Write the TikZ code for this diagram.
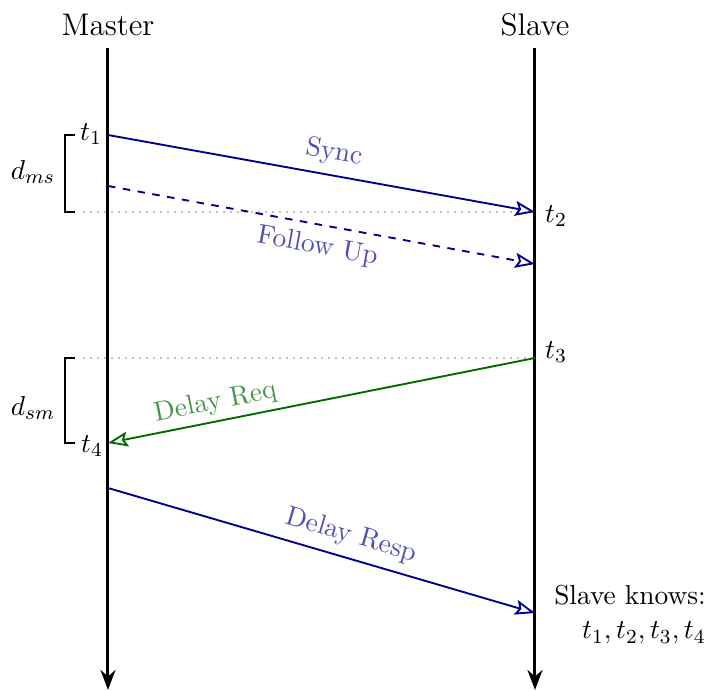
\documentclass[tikz,border=0pt,11pt]{standalone}
\usepackage{amsmath}
\usetikzlibrary{arrows.meta}
\definecolor{msgblue}{HTML}{00008C}
\definecolor{msgbluetext}{HTML}{5050B4}
\definecolor{msggreen}{HTML}{006A00}
\definecolor{msggreentext}{HTML}{4A944A}

\begin{document}
\begin{tikzpicture}[
    x=0.4pt, y=-0.4pt,
    timeline/.style={-{Stealth[length=8pt,width=6pt]}, line width=1.2pt},
    msg/.style={-{Stealth[open,length=8pt,width=6pt,inset=1.5pt]}, line width=0.75pt, color=msgblue},
    reply/.style={-{Stealth[open,length=8pt,width=6pt,inset=1.5pt]}, line width=0.75pt, color=msggreen},
    lbl/.style={sloped},
    guide/.style={dotted, thick, color=black!25},
    brace/.style={line width=0.75pt}
  ]
    \useasboundingbox (0,0) rectangle (709,691);

    % the two clocks
    \node[font=\fontsize{12.5}{15}\selectfont] (master) at (108,25) {Master};
    \node[font=\fontsize{12.5}{15}\selectfont] (slave)  at (535,25) {Slave};
    \coordinate (mtop) at (108,48);  \coordinate (mbot) at (108,690);
    \coordinate (stop) at (535,48);  \coordinate (sbot) at (535,690);
    \draw[timeline] (mtop) -- (mbot);
    \draw[timeline] (stop) -- (sbot);

    % time stamps
    \coordinate (t1) at (108,135);
    \coordinate (t2) at (535,212);
    \coordinate (f1) at (108,186);
    \coordinate (f2) at (535,264);
    \coordinate (t3) at (535,358);
    \coordinate (t4) at (108,443);
    \coordinate (r1) at (108,488);
    \coordinate (r2) at (535,613);

    % guide lines
    \coordinate (g2) at (83,212);
    \coordinate (g3) at (83,358);
    \draw[guide] (g2) -- (t2);
    \draw[guide] (g3) -- (t3);

    % messages
    \draw[msg] (t1) -- node[lbl, above, pos=0.52, text=msgbluetext] {Sync} (t2);
    \draw[msg, dashed] (f1) -- node[lbl, below, pos=0.5, text=msgbluetext] {Follow Up} (f2);
    \draw[reply] (t3) -- node[lbl, above=-1.5pt, pos=0.74, text=msggreentext] {Delay Req} (t4);
    \draw[msg] (r1) -- node[lbl, above, pos=0.555, text=msgbluetext] {Delay Resp} (r2);

    % labels of the time stamps
    \node (lt1) at (91,134) {$t_1$};
    \node (lt2) at (556,216) {$t_2$};
    \node (lt3) at (556,352) {$t_3$};
    \node (lt4) at (92,446) {$t_4$};

    % delays
    \coordinate (b1) at (75,135);  \coordinate (b2) at (75,212);
    \coordinate (b3) at (75,358);  \coordinate (b4) at (75,443);
    \draw[brace] (b1) -- ++(-10,0) |- (b2);
    \draw[brace] (b3) -- ++(-10,0) |- (b4);
    \node (dms) at (33,172) {$d_{ms}$};
    \node (dsm) at (33,408) {$d_{sm}$};

    \node[align=right] (knows) at (630,615) {Slave knows:\\ $t_1,t_2,t_3,t_4$};
\end{tikzpicture}
\end{document}
